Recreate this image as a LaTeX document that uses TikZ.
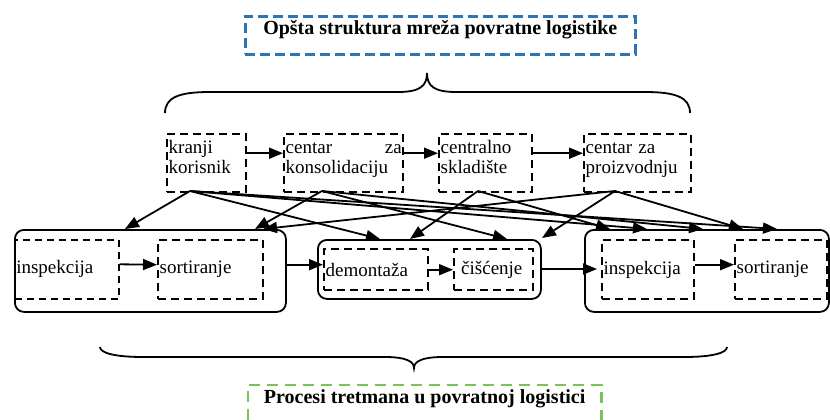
\documentclass[tikz,border=0pt]{standalone}
\usepackage{fontspec}
\setmainfont{Liberation Serif}
\usetikzlibrary{arrows.meta}
\definecolor{plava}{RGB}{46,117,182}
\definecolor{zelena}{RGB}{120,196,90}
\tikzset{lanac/.style={draw,line width=2.4pt,dash pattern=on 8pt off 5pt,anchor=north west,align=left,inner xsep=1.5pt,inner ysep=3pt,text height=16pt,text depth=36pt,font=\fontsize{19}{20}\selectfont}}
\tikzset{korak/.style={draw,line width=2.4pt,dash pattern=on 8pt off 5pt,anchor=north west,align=left,inner xsep=1.5pt,inner ysep=0pt,font=\fontsize{19}{20}\selectfont}}
\tikzset{grupa/.style={draw,line width=1.8pt,rounded corners=9pt,anchor=north west,inner sep=0pt}}
\tikzset{veza/.style={line width=1.8pt,-{Triangle[length=14pt,width=11pt]}}}

\begin{document}
\begin{tikzpicture}[x=1pt,y=-1pt]
        \useasboundingbox (0,0) rectangle (830,420);

        % naslovi
        \node (naslov) [draw=plava,line width=2.6pt,dash pattern=on 10pt off 5pt,anchor=north west,minimum width=390pt,inner ysep=0pt,text height=18pt,text depth=20pt,font=\fontsize{20}{24}\selectfont\bfseries] at (244,15) {Opšta struktura mreža povratne logistike};
        \node (procesi) [anchor=north west,minimum width=353pt,inner ysep=0pt,text height=18pt,text depth=17pt,font=\fontsize{20}{24}\selectfont\bfseries] at (248,385) {Procesi tretmana u povratnoj logistici};
        \draw [zelena,line width=2.6pt,dash pattern=on 11pt off 7pt] (procesi.south west) -- (procesi.north west) -- (procesi.north east) -- (procesi.south east);

        % zagrade
        \draw [line width=1.8pt] (165,113) .. controls (165,97) and (180,92) .. (210,92) -- (398,92) .. controls (420,92) and (427,86) .. (427,73) .. controls (427,86) and (434,92) .. (456,92) -- (645,92) .. controls (675,92) and (690,97) .. (690,113);
        \draw [line width=1.8pt] (100,347) .. controls (100,353) and (115,357) .. (143,357) -- (385,357) .. controls (405,357) and (414,361) .. (414,368) .. controls (414,361) and (423,357) .. (443,357) -- (684,357) .. controls (712,357) and (727,353) .. (727,347);

        % mreza
        \node (kranji)		[lanac,text width=76pt]		at (166,133) {kranji\\korisnik};
        \node (konsol)		[lanac,text width=116pt]	at (283,133) {centar\hfill za\\konsolidaciju};
        \node (centralno)	[lanac,text width=90pt]		at (438,133) {centralno\\skladište};
        \node (proizv)		[lanac,text width=104pt]	at (583,133) {centar za\\proizvodnju};

        \draw [veza] ([yshift=10pt]kranji.east) -- ([yshift=10pt]konsol.west);
        \draw [veza] ([yshift=10pt]konsol.east) -- ([yshift=10pt]centralno.west);
        \draw [veza] ([yshift=10pt]centralno.east) -- ([yshift=10pt]proizv.west);

        % tretman
        \node (grupa1)	[grupa,minimum width=271pt,minimum height=82pt]	at (14,229) {};
        \node (grupa2)	[grupa,minimum width=223pt,minimum height=59pt]	at (317,239) {};
        \node (grupa3)	[grupa,minimum width=244pt,minimum height=82pt]	at (584,229) {};

        \node (insp1)		[korak,line width=1.6pt,dash pattern=on 7pt off 5pt,text width=101pt,minimum height=59pt]	at (14,239) {inspekcija};
        \node (sort1)		[korak,text width=102pt,minimum height=59pt]	at (157,239) {sortiranje};
        \node (demont)		[korak,text width=101pt,minimum height=41pt]	at (323,248) {demontaža};
        \node (ciscenje)	[korak,inner xsep=7pt,text width=65pt,minimum height=41pt]	at (453,248) {čišćenje};
        \node (insp2)		[korak,text width=89pt,minimum height=59pt]		at (601,239) {inspekcija};
        \node (sort2)		[korak,text width=89pt,minimum height=59pt]		at (734,239) {sortiranje};

        \coordinate (g2izlaz)	at (540,269);
        \coordinate (g3ulaz)	at (597,269);

        \draw [veza] ([yshift=5pt]insp1.east) -- ([yshift=5pt]sort1.west);
        \draw [veza] ([yshift=5pt]demont.west -| grupa1.east) -- ([yshift=5pt]demont.west);
        \draw [veza] (demont.east) -- (ciscenje.west);
        \draw [veza] (g2izlaz) -- (g3ulaz);
        \draw [veza] ([yshift=5pt]insp2.east) -- ([yshift=5pt]sort2.west);

        % izlazi i ulazi
        \coordinate (kranji-d)		at (190,191);
        \coordinate (konsol-d)		at (322,191);
        \coordinate (centralno-d)	at (478,191);
        \coordinate (proizv-d)		at (615,191);
        \coordinate (g1a) at (125,229);
        \coordinate (g1b) at (255,229);
        \coordinate (g1c) at (263,229);
        \coordinate (g2a) at (380,239);
        \coordinate (g2b) at (410,239);
        \coordinate (g2c) at (507,239);
        \coordinate (g2d) at (542,238);
        \coordinate (g3a) at (610,229);
        \coordinate (g3b) at (647,229);
        \coordinate (g3c) at (703,229);
        \coordinate (g3d) at (743,229);
        \coordinate (g3e) at (777,229);

        \draw [veza] (kranji-d) -- (g1a);
        \draw [veza] (kranji-d) -- (g2a);
        \draw [veza] (kranji-d) -- (g3b);
        \draw [veza] (kranji-d) -- (g3e);
        \draw [veza] (konsol-d) -- (g1b);
        \draw [veza] (konsol-d) -- (g2c);
        \draw [veza] (konsol-d) -- (g3c);
        \draw [veza] (centralno-d) -- (g2b);
        \draw [veza] (centralno-d) -- (g3a);
        \draw [veza] (proizv-d) -- (g1c);
        \draw [veza] (proizv-d) -- (g2d);
        \draw [veza] (proizv-d) -- (g3d);
\end{tikzpicture}
\end{document}
